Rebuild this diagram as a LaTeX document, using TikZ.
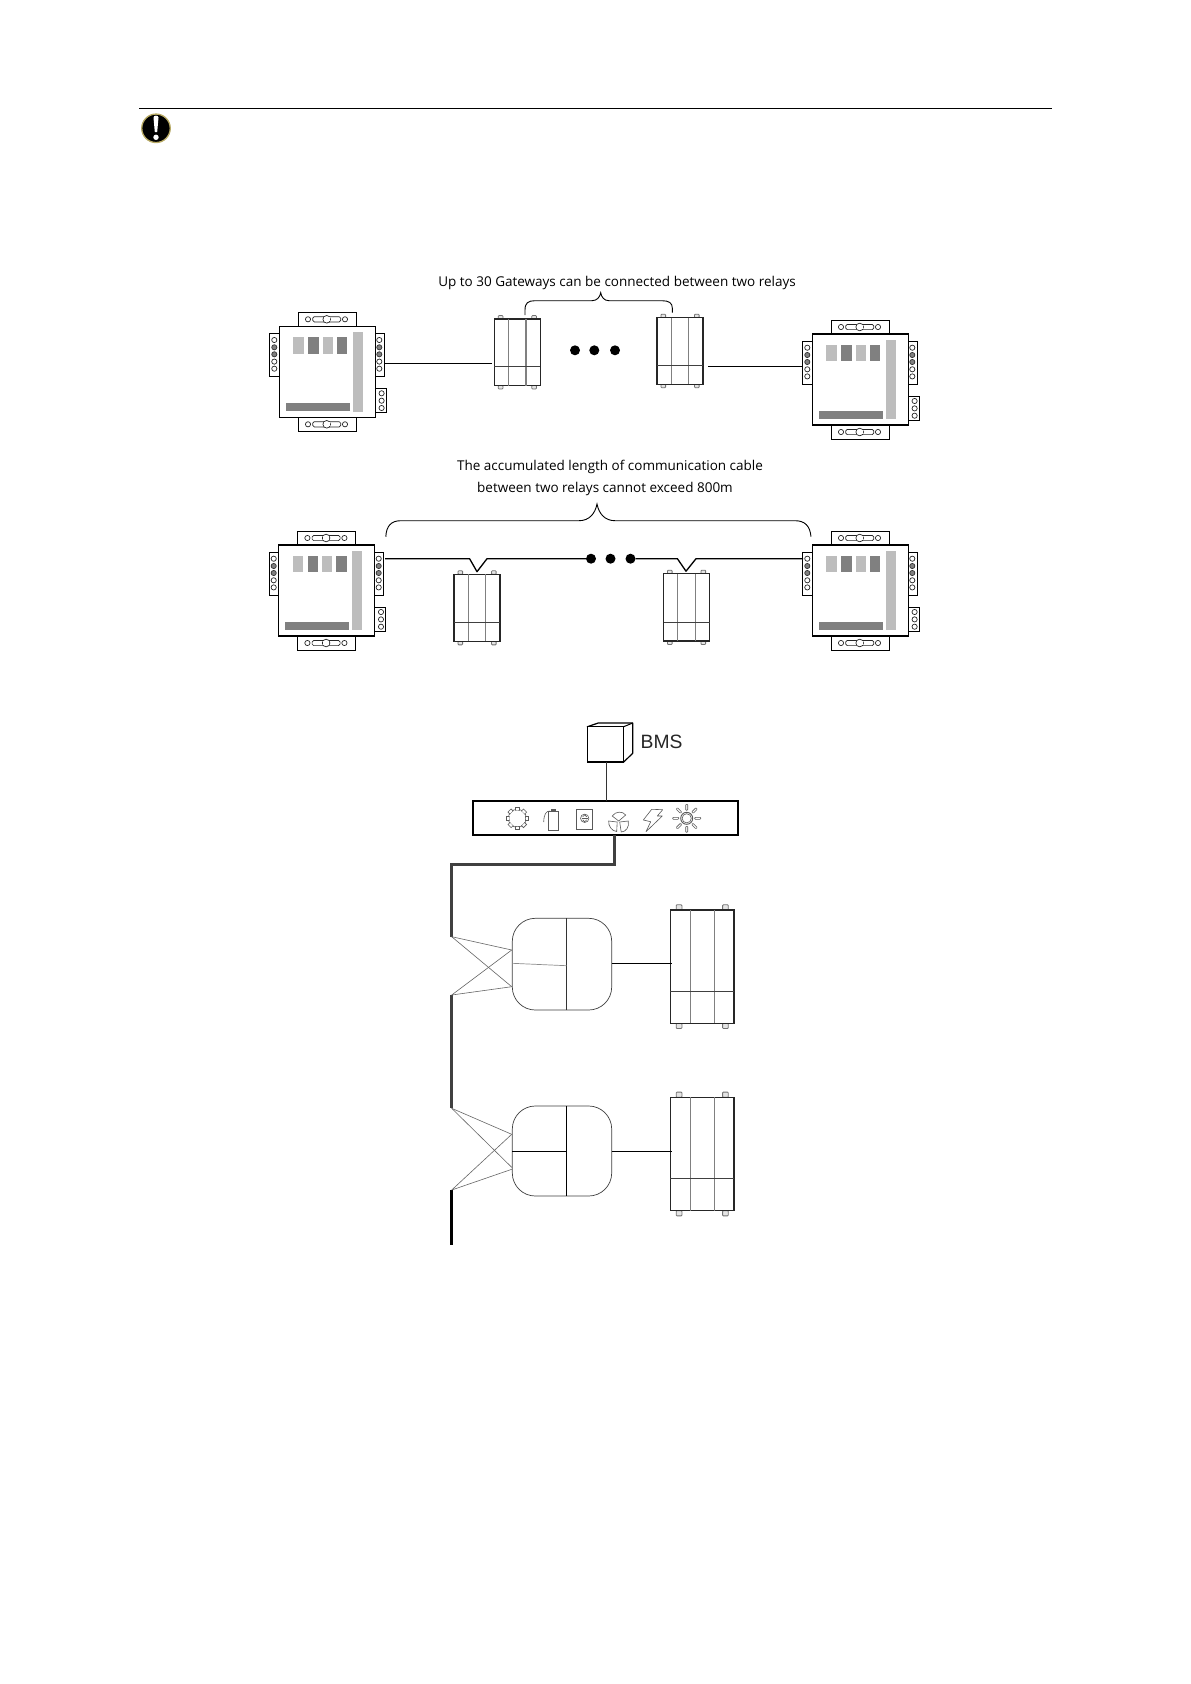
\documentclass[tikz,border=0pt]{standalone}
\usepackage{fontspec}
\setmainfont{Open Sans}
\newfontfamily\bmsfont{Liberation Sans}
\definecolor{lightled}{HTML}{BDBDBD}
\definecolor{darkled}{HTML}{808080}
\definecolor{bus}{HTML}{404040}
\tikzset{
  relaybox/.style={draw=black,line width=1.1pt,fill=white,inner sep=0pt,outer sep=0pt,anchor=north west,minimum width=96pt,minimum height=91pt},
  tabbox/.style={draw=black,line width=1pt,fill=white},
  holes/.style={draw=black!85,line width=.7pt,fill=white},
  darkhole/.style={draw=black!80,line width=.7pt,fill=darkled},
  gwbox/.style={draw=black!85,fill=white,inner sep=0pt,outer sep=0pt,anchor=north west},
  gwgrey/.style={draw=black!50,line width=1.1pt},
  gwdiv/.style={draw=black!75,line width=.7pt},
  foot/.style={draw=black!55,line width=.8pt,fill=black!10},
  wire/.style={draw=black,line width=.9pt},
  hbus/.style={draw=black,line width=1.3pt,line join=round},
  dotnode/.style={circle,fill=black,inner sep=0pt,minimum size=10pt,outer sep=0pt},
  thickbus/.style={draw=bus,line width=2.8pt,line join=miter},
  thin line/.style={draw=black!60,line width=.6pt},
  caption/.style={font=\fontsize{13.5pt}{16pt}\selectfont,inner sep=0pt,text=black},
  icon/.style={draw=black!65,line width=.6pt},
  unitbox/.style={draw=black!75,line width=.7pt,fill=white,rounded corners=23pt,inner sep=0pt,outer sep=0pt,anchor=north west,minimum width=99.4pt},
}
\newcommand{\slotrow}[1]{%
  \draw[holes] (28.7,#1) circle (2.6);
  \draw[holes] (65.7,#1) circle (2.6);
  \draw[holes,rounded corners=1.5pt] (33.4,#1-2.6) rectangle (61.4,#1+2.6);
  \draw[holes] (47.4,#1) circle (3.8);
  \fill[white] (44.5,#1-2) rectangle (50.3,#1+2);
}
\newcommand{\holecol}[1]{%
  \draw[holes] (#1,13.7) circle (2.6);
  \draw[darkhole] (#1,21) circle (2.6);
  \draw[darkhole] (#1,28) circle (2.6);
  \draw[holes] (#1,35.3) circle (2.6);
  \draw[holes] (#1,42.4) circle (2.6);
}
\newcommand{\relay}[3]{%
  \begin{scope}[shift={(#2,#3)}]
    \draw[tabbox] (19,-14) rectangle (77,0);
    \draw[tabbox] (19,91) rectangle (77,105.5);
    \draw[tabbox] (-9.5,7) rectangle (0,50);
    \draw[tabbox] (96,7) rectangle (105,50);
    \draw[tabbox] (96,62) rectangle (107,86);
    \node[relaybox] (#1) at (0,0) {};
    \slotrow{-7}
    \slotrow{98}
    \holecol{-5}
    \holecol{100}
    \draw[holes] (102.3,67) circle (2.6);
    \draw[holes] (102.3,74.4) circle (2.6);
    \draw[holes] (102.3,81.7) circle (2.6);
    \fill[lightled] (14,10.7) rectangle (24.5,27.4);
    \fill[darkled] (29,10.7) rectangle (39.3,27.4);
    \fill[lightled] (43.3,10.7) rectangle (53.7,27.4);
    \fill[darkled] (57.7,10.7) rectangle (68,27.4);
    \fill[lightled] (73.7,5.7) rectangle (83.3,85.3);
    \fill[darkled] (6.7,76.7) rectangle (70.7,84.7);
  \end{scope}
}
% name, x, y, w, h, outline width
\newcommand{\gateway}[6]{%
  \begin{scope}[shift={(#2,#3)}]
    \pgfmathsetmacro{\fw}{#4*0.065+1.6}
    \pgfmathsetmacro{\fh}{#5*0.035+1.2}
    \foreach \fx in {0.137,0.866} {
      \draw[foot,rounded corners=.8pt] ({#4*\fx-\fw/2},-\fh) rectangle ({#4*\fx+\fw/2},0);
      \draw[foot,rounded corners=.8pt] ({#4*\fx-\fw/2},#5) rectangle ({#4*\fx+\fw/2},#5+\fh);
    }
    \node[gwbox,line width=#6,minimum width=#4 pt,minimum height=#5 pt] (#1) at (0,0) {};
    \draw[gwgrey] ({#4*0.31},0) -- ({#4*0.31},#5);
    \draw[gwgrey] ({#4*0.69},0) -- ({#4*0.69},#5);
    \draw[gwdiv] (0,{#5*0.716}) -- (#4,{#5*0.716});
  \end{scope}
}
\begin{document}
\begin{tikzpicture}[x=1pt,y=-1pt]
\useasboundingbox (0,0) rectangle (1191,1684);
\fill[white] (0,0) rectangle (1191,1684);
% header
\coordinate (ruleL) at (139,108.3);
\coordinate (ruleR) at (1052,108.3);
\draw[black,line width=1pt] (ruleL) -- (ruleR);
\node[circle,fill=black,draw={rgb,255:red,184;green,170;blue,100},line width=1.3pt,minimum size=28.5pt,inner sep=0pt] (warn) at (156,128.3) {};
\fill[white] (153.5,117.5) .. controls (153.5,115) and (158.5,115) .. (158.5,117.5) -- (157.2,132) -- (154.8,132) -- cycle;
\fill[white] (156,137.3) circle (2.7);
% captions
\node[caption] (cap1) at (617,283) {Up to 30 Gateways can be connected between two relays};
\node[caption] (cap2) at (610,467) {The accumulated length of communication cable};
\node[caption] (cap3) at (605,489) {between two relays cannot exceed 800m};
% top row
\relay{r1}{279.3}{326.3}
\relay{r2}{812.3}{334}
\gateway{g1}{494.3}{319}{46}{66.5}{1.1pt}
\gateway{g2}{657}{317.7}{46}{66.5}{1.2pt}
\coordinate (r1out) at (384.7,363.3);
\coordinate (g1in) at (491.7,363.3);
\coordinate (g2out) at (708.3,366.7);
\coordinate (r2in) at (802.7,366.7);
\draw[wire] (r1out) -- (g1in);
\draw[wire] (g2out) -- (r2in);
\node[dotnode] (d1) at (575,350.3) {};
\node[dotnode] (d2) at (594.3,350.3) {};
\node[dotnode] (d3) at (615,350.3) {};
\coordinate (b1a) at (525,315);
\coordinate (b1b) at (672.3,312.7);
\coordinate (b1m) at (600.7,292.7);
\draw[black,line width=.9pt] (b1a) -- (525,310) .. controls (525,303) and (528,300.7) .. (535,300.7) -- (592,300.7) .. controls (597,300.7) and (600,297) .. (b1m) .. controls (601.4,297) and (604,300.7) .. (609,300.7) -- (662,300.7) .. controls (669,300.7) and (672.3,303) .. (672.3,308) -- (b1b);
% lower row
\relay{r3}{278.7}{545}
\relay{r4}{812.3}{545}
\gateway{g3}{454}{574.3}{46}{67}{1.1pt}
\gateway{g4}{663.5}{573.7}{46}{67.3}{1.1pt}
\coordinate (b2a) at (385.8,536.7);
\coordinate (b2b) at (811,536.7);
\coordinate (b2m) at (597,504);
\draw[black,line width=.9pt] (b2a) .. controls (386.4,526) and (391,520.7) .. (401,520.7) -- (579,520.7) .. controls (589,520.7) and (595,514) .. (b2m) .. controls (599,514) and (605,520.7) .. (615,520.7) -- (795,520.7) .. controls (805,520.7) and (810,526) .. (b2b);
\coordinate (r3out) at (385,558.7);
\coordinate (r4in) at (803,558.7);
\node[dotnode] (d4) at (591,558.7) {};
\node[dotnode] (d5) at (610.5,558.7) {};
\node[dotnode] (d6) at (630.5,558.7) {};
\coordinate (t3) at (477,571.7);
\coordinate (t4) at (686,571.2);
\draw[hbus] (r3out) -- (469.6,558.7) -- (t3) -- (487,558.7) -- (d4);
\draw[hbus] (d6) -- (677.4,558.7) -- (t4) -- (696,558.7) -- (r4in);
% BMS
\draw[black,line width=1.2pt,line join=round,fill=white] (587.3,726.7) -- (598.3,723) -- (632.7,723) -- (632.7,753.3) -- (623.7,762) -- cycle;
\node[draw=black,line width=1.4pt,fill=white,inner sep=0pt,outer sep=0pt,minimum width=36.4pt,minimum height=35.3pt,anchor=north west] (bms) at (587.3,726.7) {};
\draw[black,line width=1pt] (623.7,726.7) -- (632.7,723);
\node[inner sep=0pt,anchor=west,font=\bmsfont\fontsize{19.3pt}{22pt}\selectfont,text=black!85] (bmslabel) at (640.5,742.3) {BMS};
\node[draw=black,line width=1.7pt,fill=white,inner sep=0pt,outer sep=0pt,minimum width=265pt,minimum height=34.6pt,anchor=north west] (bar) at (473.3,800.7) {};
\coordinate (barTop) at (606.7,800.7);
\draw[draw=black!80,line width=1.2pt] (bms.south -| barTop) -- (barTop);
% icons
\begin{scope}[shift={(517.3,818.3)}]
  \draw[icon] (0,0) circle (9);
  \foreach \a in {0,45,...,315} \draw[icon,fill=white,rotate=\a] (8,-2.2) rectangle (11,2.2);
  \fill[white] (0,0) circle (8);
\end{scope}
\draw[icon,line width=.9pt] (548.5,830.5) rectangle (558,811);
\fill[black!65] (550.5,808.5) rectangle (556,811);
\draw[icon] (550,811) .. controls (546,811) and (544,814) .. (543.7,822);
\draw[icon] (576.7,809) rectangle (592.7,829.3);
\draw[icon] (584.7,818.3) circle (4.2);
\draw[icon] (581.5,818.3) -- (587.9,818.3);
\draw[icon] (582.7,816.8) -- (584.7,814.8) -- (586.7,816.8);
\draw[icon] (582.7,819.8) -- (584.7,821.8) -- (586.7,819.8);
\begin{scope}[shift={(618.7,821)}]
  \draw[icon] (0,0) -- (-6.5,-5) .. controls (-3,-10) and (4,-10) .. (7,-6) -- cycle;
  \draw[icon] (-1.5,1) -- (-10,0) .. controls (-10.5,5) and (-7,10) .. (-2,10.5) -- cycle;
  \draw[icon] (1,1) -- (9.5,0) .. controls (11,6) and (7,11) .. (2.5,11) -- cycle;
\end{scope}
\draw[icon,line join=round] (651.7,809.3) -- (662.7,809.7) -- (657.3,816) -- (662.3,816) -- (646,831.7) -- (650.7,821.7) -- (643.3,820) -- cycle;
\begin{scope}[shift={(686.7,818.3)}]
  \draw[icon,line width=.9pt] (0,0) circle (6);
  \draw[icon] (0,0) circle (4.6);
  \foreach \a in {0,45,...,315} \draw[icon,fill=white,rotate=\a,rounded corners=.7pt] (8,-1) rectangle (14,1);
\end{scope}
% bus trunk
\coordinate (barOut) at (614.3,835.3);
\coordinate (trunk1) at (451.7,936.7);
\coordinate (trunk2) at (451.7,995);
\coordinate (trunk3) at (451.7,1108.3);
\coordinate (trunk4) at (451.7,1190);
\coordinate (trunk5) at (451.7,1245);
\draw[thickbus] (barOut) -- (614.3,864.3) -- (451.7,864.3) -- (trunk1);
\draw[thickbus] (trunk2) -- (trunk3);
\draw[thickbus,draw=black] (trunk4) -- (trunk5);
% units
\node[unitbox,minimum height=91.7pt] (u1) at (512.3,918.3) {};
\draw[black!80,line width=.8pt] (u1.north -| 566.7,0) -- (u1.south -| 566.7,0);
\draw[black!45,line width=.7pt] (512.3,963.3) -- (566.7,965.7);
\node[unitbox,minimum height=90pt] (u2) at (512.3,1106) {};
\draw[black,line width=1pt] (u2.north -| 566.7,0) -- (u2.south -| 566.7,0);
\draw[black,line width=1pt] (512.3,1151.3) -- (566.7,1151.3);
\coordinate (u1a) at (511.7,950);
\coordinate (u1b) at (511.7,986.7);
\coordinate (u2a) at (511.7,1134.3);
\coordinate (u2b) at (511.7,1167.3);
\coordinate (u2c) at (511.7,1169.3);
\draw[thin line] (trunk1) -- (u1a);
\draw[thin line] (trunk1) -- (u1b);
\draw[thin line] (trunk2) -- (u1a);
\draw[thin line] (trunk2) -- (u1b);
\draw[thin line] (trunk3) -- (u2a);
\draw[thin line] (trunk3) -- (u2b);
\draw[thin line] (trunk4) -- (u2a);
\draw[thin line] (trunk4) -- (u2c);
\gateway{g5}{670.3}{910}{63.7}{113.3}{1.5pt}
\gateway{g6}{670.3}{1097.3}{63.7}{113.4}{1.5pt}
\coordinate (u1out) at (611.7,963.3);
\coordinate (g5in) at (671.7,963.3);
\coordinate (u2out) at (611.7,1151.3);
\coordinate (g6in) at (671.7,1151.3);
\draw[wire,line width=.7pt] (u1out) -- (g5in);
\draw[wire,line width=.7pt] (u2out) -- (g6in);
\end{tikzpicture}
\end{document}
